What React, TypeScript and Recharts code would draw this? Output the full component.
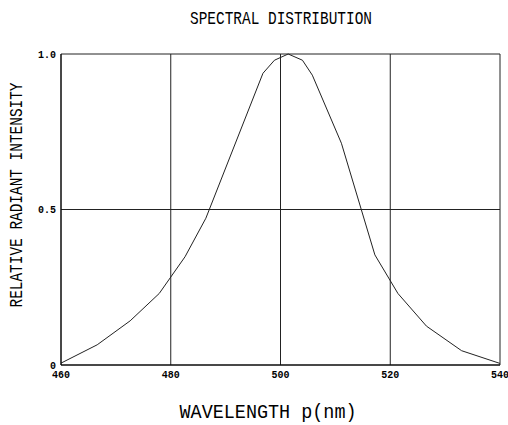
import React from 'react';
import { LineChart, Line, XAxis, YAxis, CartesianGrid } from 'recharts';

// wavelength (nm) and relative radiant intensity
const wavelengths = [460, 466.6, 472.6, 477.9, 482.6, 486.4, 496.8, 498.9, 501.4, 504, 505.8, 511.1, 517.2, 521.4, 526.6, 533, 540];
const intensities = [0.006, 0.065, 0.142, 0.23, 0.348, 0.472, 0.938, 0.98, 1.0, 0.98, 0.932, 0.713, 0.354, 0.23, 0.125, 0.046, 0.005];

const xTicks = [460, 480, 500, 520, 540];
const yTicks = [0, 0.5, 1];
const yTickLabels = ['0', '0.5', '1.0'];

const FONT = '"Liberation Mono", "DejaVu Sans Mono", monospace';

const data = wavelengths.map((w, i) => ({ w, v: intensities[i] }));

const tickStyle = { fontSize: 10, fill: '#000', fontFamily: FONT, fontWeight: 'bold' as const };

export default function App() {
  return (
    <div style={{ position: 'absolute', left: 0, top: 0, width: 508, height: 425, background: '#fff' }}>
      <LineChart width={508} height={425} data={data} margin={{ top: 54, right: 8, bottom: 40, left: 41 }}>
        <CartesianGrid stroke="#222" strokeWidth={1} />
        <XAxis
          dataKey="w"
          type="number"
          domain={[460, 540]}
          ticks={xTicks}
          height={20}
          tickLine={false}
          axisLine={{ stroke: '#000' }}
          tickSize={4}
          tickMargin={2}
          tick={tickStyle}
          interval={0}
        />
        <YAxis
          type="number"
          domain={[0, 1]}
          ticks={yTicks}
          width={20}
          tickLine={false}
          axisLine={{ stroke: '#000' }}
          tickSize={3}
          tickMargin={2}
          tick={tickStyle}
          tickFormatter={(v: number) => yTickLabels[yTicks.indexOf(v)]}
          interval={0}
        />
        <Line
          type="linear"
          dataKey="v"
          stroke="#222"
          strokeWidth={1}
          dot={false}
          isAnimationActive={false}
        />
      </LineChart>
      <svg width={508} height={425} style={{ position: 'absolute', left: 0, top: 0, pointerEvents: 'none' }}>
        <text x={281} y={24} textAnchor="middle" fontFamily={FONT} fontSize={19} textLength={182} lengthAdjust="spacingAndGlyphs" fill="#000">
          SPECTRAL DISTRIBUTION
        </text>
        <text x={268} y={418} textAnchor="middle" fontFamily={FONT} fontSize={20} textLength={177} lengthAdjust="spacingAndGlyphs" fill="#000">
          WAVELENGTH p(nm)
        </text>
        <text
          x={0}
          y={0}
          transform="translate(22,195) rotate(-90)"
          textAnchor="middle"
          fontFamily={FONT}
          fontSize={19}
          textLength={225}
          lengthAdjust="spacingAndGlyphs"
          fill="#000"
        >
          RELATIVE RADIANT INTENSITY
        </text>
      </svg>
    </div>
  );
}
